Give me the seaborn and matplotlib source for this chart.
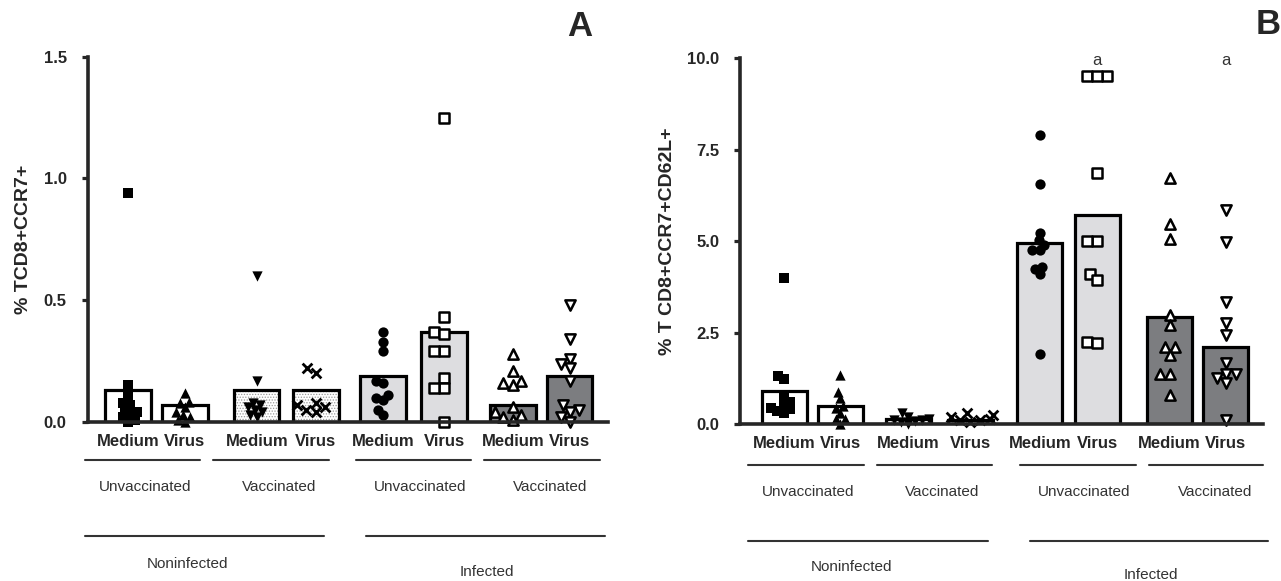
import numpy as np
import pandas as pd
import matplotlib
matplotlib.use("Agg")
import matplotlib.pyplot as plt
import matplotlib.colors as mcolors
from matplotlib.lines import Line2D
import seaborn as sns

# ------------------------------------------------------------------ data
tick_labels = ["Medium", "Virus", "Medium", "Virus", "Medium", "Virus", "Medium", "Virus"]
vacc_labels = ["Unvaccinated", "Vaccinated", "Unvaccinated", "Vaccinated"]
infect_labels = ["Noninfected", "Infected"]
conditions = ["NI-U", "NI-U", "NI-V", "NI-V", "I-U", "I-U", "I-V", "I-V"]

# Panel A : % TCD8+CCR7+
mean_A = [0.13, 0.07, 0.13, 0.13, 0.19, 0.37, 0.07, 0.19]
pts_A_ni_u_med = [0.94, 0.15, 0.11, 0.08, 0.07, 0.05, 0.04, 0.03, 0.02, 0.01, 0.0]
pts_A_ni_u_vir = [0.12, 0.083, 0.08, 0.06, 0.04, 0.03, 0.02, 0.01, 0.0]
pts_A_ni_v_med = [0.60, 0.17, 0.08, 0.07, 0.06, 0.05, 0.04, 0.03, 0.02]
pts_A_ni_v_vir = [0.22, 0.20, 0.08, 0.07, 0.06, 0.05, 0.04]
pts_A_i_u_med = [0.37, 0.33, 0.29, 0.17, 0.16, 0.11, 0.10, 0.09, 0.05, 0.03]
pts_A_i_u_vir = [1.25, 0.43, 0.37, 0.36, 0.29, 0.29, 0.18, 0.14, 0.14, 0.0]
pts_A_i_v_med = [0.28, 0.21, 0.17, 0.16, 0.15, 0.06, 0.04, 0.03, 0.02, 0.01]
pts_A_i_v_vir = [0.48, 0.34, 0.26, 0.24, 0.22, 0.17, 0.07, 0.05, 0.04, 0.02, 0.0]
points_A = [pts_A_ni_u_med, pts_A_ni_u_vir, pts_A_ni_v_med, pts_A_ni_v_vir,
            pts_A_i_u_med, pts_A_i_u_vir, pts_A_i_v_med, pts_A_i_v_vir]
yticks_A = [0.0, 0.5, 1.0, 1.5]

# Panel B : % T CD8+CCR7+CD62L+
mean_B = [0.9, 0.5, 0.15, 0.1, 4.94, 5.71, 2.92, 2.10]
pts_B_ni_u_med = [4.0, 1.32, 1.22, 0.7, 0.6, 0.5, 0.45, 0.4, 0.35, 0.3]
pts_B_ni_u_vir = [1.34, 0.88, 0.7, 0.5, 0.45, 0.3, 0.15, 0.15, 0.0]
pts_B_ni_v_med = [0.3, 0.2, 0.15, 0.12, 0.1, 0.08, 0.05, 0.0]
pts_B_ni_v_vir = [0.3, 0.25, 0.2, 0.15, 0.12, 0.1, 0.05]
pts_B_i_u_med = [7.9, 6.55, 5.23, 5.03, 4.9, 4.75, 4.75, 4.3, 4.25, 4.1, 1.91]
pts_B_i_u_vir = [9.52, 9.52, 9.52, 6.85, 5.0, 5.0, 4.1, 3.93, 2.25, 2.22]
pts_B_i_v_med = [6.72, 5.46, 5.05, 2.98, 2.7, 2.11, 2.11, 1.88, 1.38, 1.38, 0.79]
pts_B_i_v_vir = [5.85, 4.98, 3.34, 2.75, 2.43, 1.66, 1.38, 1.38, 1.25, 1.12, 0.1]
points_B = [pts_B_ni_u_med, pts_B_ni_u_vir, pts_B_ni_v_med, pts_B_ni_v_vir,
            pts_B_i_u_med, pts_B_i_u_vir, pts_B_i_v_med, pts_B_i_v_vir]
yticks_B = [0.0, 2.5, 5.0, 7.5, 10.0]
annot_B = ["", "", "", "", "", "a", "", "a"]
annot_y_B = 9.95

# ------------------------------------------------------------------ style / layout
sns.set_style("ticks")
plt.rcParams["font.family"] = ["Liberation Sans", "DejaVu Sans"]
plt.rcParams["hatch.linewidth"] = 0.6

W, H = 1281, 581
fig = plt.figure(figsize=(W / 100, H / 100), dpi=100)
fig.patch.set_facecolor("white")

palette = {"NI-U": "white", "NI-V": "white", "I-U": "#dcdde1", "I-V": "#7b7c81"}
markers = ["s", "^", "v", "x", "o", "s", "^", "v"]
filled = [True, True, True, True, True, False, False, False]
TXT = "#333333"
SWARM_SIZE = 5.0      # marker size used to lay out the (overlapping) column scatter
SHOW_SIZE = 7.4       # marker size finally drawn

xpos_A = [0, 0.98, 2.22, 3.24, 4.40, 5.45, 6.64, 7.62]
xpos_B = [0, 0.97, 2.14, 3.21, 4.41, 5.40, 6.65, 7.62]

swarm_colls = []


def px(x, y):
    return x / W, 1 - y / H


def panel(rect, xpos, xlim, means, points, yticks, ylabel, ylim):
    ax = fig.add_axes(rect)
    df = pd.DataFrame({"x": xpos, "y": means, "cond": conditions})
    sns.barplot(data=df, x="x", y="y", hue="cond", palette=palette, dodge=False,
                native_scale=True, orient="x", width=0.8, errorbar=None,
                edgecolor="black", linewidth=2.3, legend=False, ax=ax, zorder=2)
    for p in ax.patches:
        if hasattr(p, "get_x"):
            cx = p.get_x() + p.get_width() / 2
            i = int(np.argmin([abs(cx - v) for v in xpos]))
            if conditions[i] == "NI-V":
                p.set_hatch("......")
                if hasattr(p, "set_hatchcolor"):
                    p.set_hatchcolor("#9a9a9a")
                else:
                    p._hatch_color = mcolors.to_rgba("#9a9a9a")
    for i, vals in enumerate(points):
        kw = dict(marker=markers[i], size=SWARM_SIZE, color="black", ax=ax,
                  native_scale=True, orient="x", zorder=5, clip_on=False,
                  warn_thresh=1.0)
        if markers[i] == "x":
            kw["linewidth"] = 2.0
        sns.swarmplot(x=np.full(len(vals), float(xpos[i])), y=vals, **kw)
        coll = ax.collections[-1]
        if not filled[i]:
            coll.set_facecolor("white")
            coll.set_edgecolor("black")
            coll.set_linewidth(1.8)
        elif markers[i] != "x":
            coll.set_linewidth(0)
        swarm_colls.append((coll, SHOW_SIZE * (0.95 if markers[i] == "x" else 1.0)))
    ax.set_xlim(*xlim)
    ax.set_ylim(*ylim)
    ax.set_autoscale_on(False)
    ax.set_yticks(yticks)
    ax.set_yticklabels([f"{t:.1f}" for t in yticks], fontsize=12, fontweight="bold")
    ax.set_xticks(xpos)
    ax.set_xticklabels(tick_labels, fontsize=12, fontweight="bold")
    ax.tick_params(axis="x", length=0, pad=9)
    ax.tick_params(axis="y", length=4, width=2.3, pad=11, direction="out")
    ax.set_xlabel("")
    ax.set_ylabel(ylabel, fontsize=14, fontweight="bold", labelpad=8)
    sns.despine(ax=ax)
    for s in ("left", "bottom"):
        ax.spines[s].set_linewidth(2.6)
        ax.spines[s].set_zorder(6)
    ax.patch.set_alpha(0)
    return ax


axA = panel([87.5 / W, 1 - 422 / H, 520.5 / W, 365.3 / H], xpos_A,
            (-0.70, 8.28), mean_A, points_A, yticks_A, "% TCD8+CCR7+", (0, 1.5))
axB = panel([740 / W, 1 - 424 / H, 523 / W, 365.7 / H], xpos_B,
            (-0.76, 8.26), mean_B, points_B, yticks_B, "% T CD8+CCR7+CD62L+", (0, 10))

for i, t in enumerate(annot_B):
    if t:
        axB.text(xpos_B[i], annot_y_B, t, ha="center", va="center", fontsize=12, color=TXT)

# group annotations below the axes (figure pixel layout)
groups = [
    dict(short=[(84.5, 200), (213, 329), (356, 471), (484.5, 600)], sy=460,
         sub=[144.7, 279, 420.6, 550.4], suby=487,
         long=[(84.5, 324), (366, 604.5)], ly=536,
         top=[(187, 564), (487, 572)]),
    dict(short=[(748, 864), (877, 992), (1020, 1135.5), (1149, 1263)], sy=465,
         sub=[808.6, 942.5, 1084.6, 1214.8], suby=492,
         long=[(748, 987.5), (1030, 1268)], ly=541,
         top=[(851, 567), (1151, 575)]),
]
for g in groups:
    for (x0, x1) in g["short"]:
        (a0, b0), (a1, b1) = px(x0, g["sy"]), px(x1, g["sy"])
        fig.add_artist(Line2D([a0, a1], [b0, b1], color=TXT, lw=1.5))
    for j, xc in enumerate(g["sub"]):
        fig.text(*px(xc, g["suby"]), vacc_labels[j], ha="center", va="center",
                 fontsize=11, color=TXT)
    for (x0, x1) in g["long"]:
        (a0, b0), (a1, b1) = px(x0, g["ly"]), px(x1, g["ly"])
        fig.add_artist(Line2D([a0, a1], [b0, b1], color=TXT, lw=1.5))
    for j, (xc, yc) in enumerate(g["top"]):
        fig.text(*px(xc, yc), infect_labels[j], ha="center", va="center",
                 fontsize=11, color=TXT)

fig.text(*px(580, 26), "A", ha="center", va="center", fontsize=25, fontweight="bold")
fig.text(*px(1268, 24), "B", ha="center", va="center", fontsize=25, fontweight="bold")

# lay out the swarms with small markers, then freeze them and enlarge the markers
fig.canvas.draw()
for coll, s in swarm_colls:
    if "draw" in coll.__dict__:
        del coll.draw
    coll.set_sizes([s ** 2])

fig.savefig("out.png", dpi=100, facecolor="white")
